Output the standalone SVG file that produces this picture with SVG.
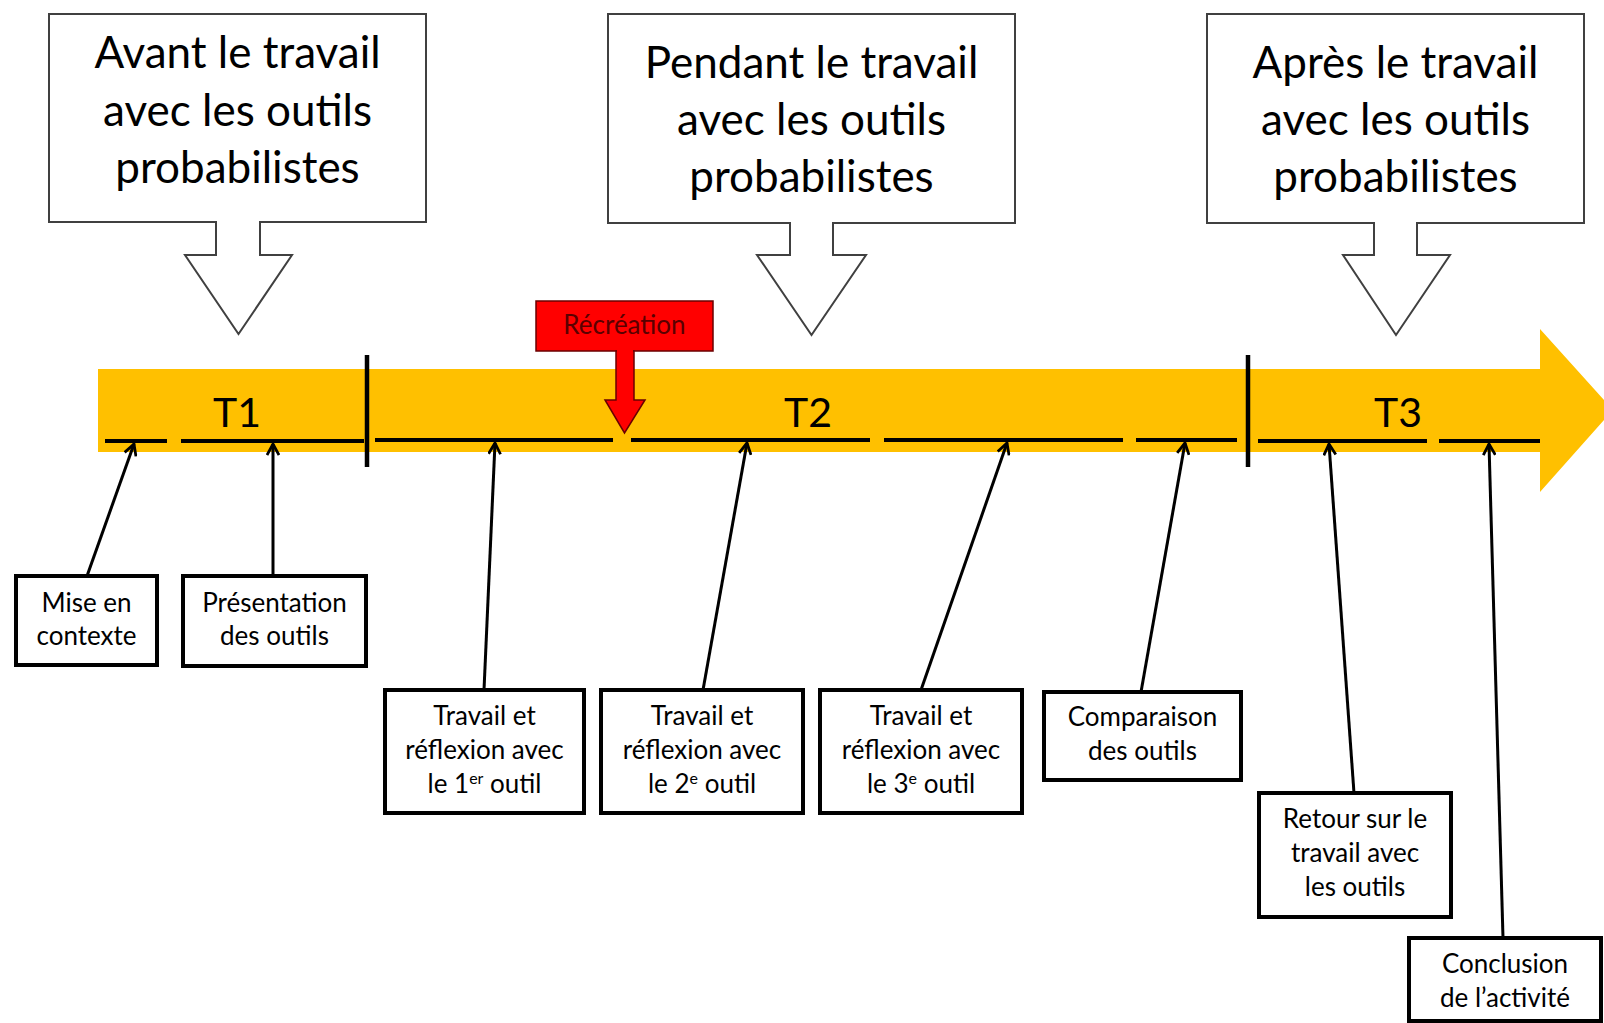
<svg xmlns="http://www.w3.org/2000/svg" width="1604" height="1023" viewBox="0 0 1604 1023">
<defs>
<style>
.hdr{fill:#fff;stroke:#404040;stroke-width:2}
.ht{font-family:Lato,"Liberation Sans",sans-serif;font-size:44px;fill:#000;text-anchor:middle}
.box{fill:#fff;stroke:#000;stroke-width:4}
.bt{font-family:Lato,"Liberation Sans",sans-serif;font-size:26px;fill:#000;text-anchor:middle}
.tl{font-family:Lato,"Liberation Sans",sans-serif;font-size:41px;fill:#000;text-anchor:middle}
.seg{stroke:#000;stroke-width:4;fill:none}
.div{stroke:#000;stroke-width:4.5}
.con{stroke:#000;stroke-width:3;fill:none;marker-end:url(#oa)}
</style>
<marker id="oa" viewBox="0 0 14 14" refX="12.5" refY="7" markerWidth="14" markerHeight="14" markerUnits="userSpaceOnUse" orient="auto">
<path d="M1.5,1 L12.5,7 L1.5,13" fill="none" stroke="#000" stroke-width="2.8"/>
</marker>
</defs>
<rect width="1604" height="1023" fill="#fff"/>

<g id="timeline">
<path d="M98,369 H1540 V329 L1613,410 L1540,492 V452 H98 Z" fill="#FFC000"/>
<text class="tl" x="237" y="427">T1</text>
<text class="tl" x="808" y="427">T2</text>
<text class="tl" x="1398" y="427">T3</text>
<g id="segments">
<line class="seg" x1="105" y1="441" x2="167" y2="441"/>
<line class="seg" x1="181" y1="441" x2="364" y2="441"/>
<line class="seg" x1="375" y1="440" x2="613" y2="440"/>
<line class="seg" x1="631" y1="440" x2="870" y2="440"/>
<line class="seg" x1="884" y1="440" x2="1123" y2="440"/>
<line class="seg" x1="1136" y1="440" x2="1237" y2="440"/>
<line class="seg" x1="1258" y1="441" x2="1427" y2="441"/>
<line class="seg" x1="1439" y1="441" x2="1540" y2="441"/>
</g>
<line class="div" x1="367" y1="355" x2="367" y2="467"/>
<line class="div" x1="1248" y1="355" x2="1248" y2="467"/>
</g>

<g id="avant">
<path class="hdr" d="M49,14 H426 V222 H260 V255 H292 L238.5,334 L185,255 H216 V222 H49 Z"/>
<text class="ht" x="237.5" y="68">Avant le travail</text>
<text class="ht" x="237.5" y="126">avec les outils</text>
<text class="ht" x="237.5" y="183">probabilistes</text>
</g>

<g id="pendant">
<path class="hdr" d="M608,14 H1015 V223 H833 V255 H866 L811.5,335 L757,255 H790 V223 H608 Z"/>
<text class="ht" x="811.5" y="78">Pendant le travail</text>
<text class="ht" x="811.5" y="135">avec les outils</text>
<text class="ht" x="811.5" y="192">probabilistes</text>
</g>

<g id="apres">
<path class="hdr" d="M1207,14 H1584 V223 H1417 V255 H1450 L1396,335 L1343,255 H1374 V223 H1207 Z"/>
<text class="ht" x="1395.5" y="78">Après le travail</text>
<text class="ht" x="1395.5" y="135">avec les outils</text>
<text class="ht" x="1395.5" y="192">probabilistes</text>
</g>

<g id="recreation">
<rect x="536" y="301" width="177" height="50" fill="#FF0000" stroke="#6a0000" stroke-width="1.5"/>
<path d="M616,351 H634 V400 H645 L624.5,433 L605,400 H616 Z" fill="#FF0000" stroke="#6a0000" stroke-width="1.5"/>
<rect x="617" y="349" width="16" height="4" fill="#FF0000"/>
<text x="624.5" y="334" font-family="Lato,'Liberation Sans',sans-serif" font-size="26" fill="#5a0000" text-anchor="middle">Récréation</text>
</g>

<g id="connectors">
<line class="con" x1="87" y1="576" x2="134" y2="444"/>
<line class="con" x1="273" y1="576" x2="273" y2="444"/>
<line class="con" x1="484" y1="690" x2="495" y2="443"/>
<line class="con" x1="703" y1="690" x2="747" y2="443"/>
<line class="con" x1="921" y1="690" x2="1007" y2="443"/>
<line class="con" x1="1141" y1="692" x2="1185" y2="443"/>
<line class="con" x1="1354" y1="793" x2="1329" y2="444"/>
<line class="con" x1="1503" y1="938" x2="1489" y2="444"/>
</g>

<g id="mise">
<rect class="box" x="16" y="576" width="141" height="89"/>
<text class="bt" x="86.5" y="612">Mise en</text>
<text class="bt" x="86.5" y="645">contexte</text>
</g>

<g id="presentation">
<rect class="box" x="183" y="576" width="183" height="90"/>
<text class="bt" x="274.5" y="612">Présentation</text>
<text class="bt" x="274.5" y="645">des outils</text>
</g>

<g id="travail1">
<rect class="box" x="385" y="690" width="199" height="123"/>
<text class="bt" x="484.5" y="725">Travail et</text>
<text class="bt" x="484.5" y="759">réflexion avec</text>
<text class="bt" x="484.5" y="793">le 1<tspan font-size="16" dy="-9">er</tspan><tspan dy="9"> outil</tspan></text>
</g>

<g id="travail2">
<rect class="box" x="601" y="690" width="202" height="123"/>
<text class="bt" x="702" y="725">Travail et</text>
<text class="bt" x="702" y="759">réflexion avec</text>
<text class="bt" x="702" y="793">le 2<tspan font-size="16" dy="-9">e</tspan><tspan dy="9"> outil</tspan></text>
</g>

<g id="travail3">
<rect class="box" x="820" y="690" width="202" height="123"/>
<text class="bt" x="921" y="725">Travail et</text>
<text class="bt" x="921" y="759">réflexion avec</text>
<text class="bt" x="921" y="793">le 3<tspan font-size="16" dy="-9">e</tspan><tspan dy="9"> outil</tspan></text>
</g>

<g id="comparaison">
<rect class="box" x="1044" y="692" width="197" height="88"/>
<text class="bt" x="1142.5" y="726">Comparaison</text>
<text class="bt" x="1142.5" y="760">des outils</text>
</g>

<g id="retour">
<rect class="box" x="1259" y="793" width="192" height="124"/>
<text class="bt" x="1355" y="828">Retour sur le</text>
<text class="bt" x="1355" y="862">travail avec</text>
<text class="bt" x="1355" y="896">les outils</text>
</g>

<g id="conclusion">
<rect class="box" x="1409" y="938" width="192" height="83"/>
<text class="bt" x="1505" y="973">Conclusion</text>
<text class="bt" x="1505" y="1007">de l’activité</text>
</g>
</svg>
